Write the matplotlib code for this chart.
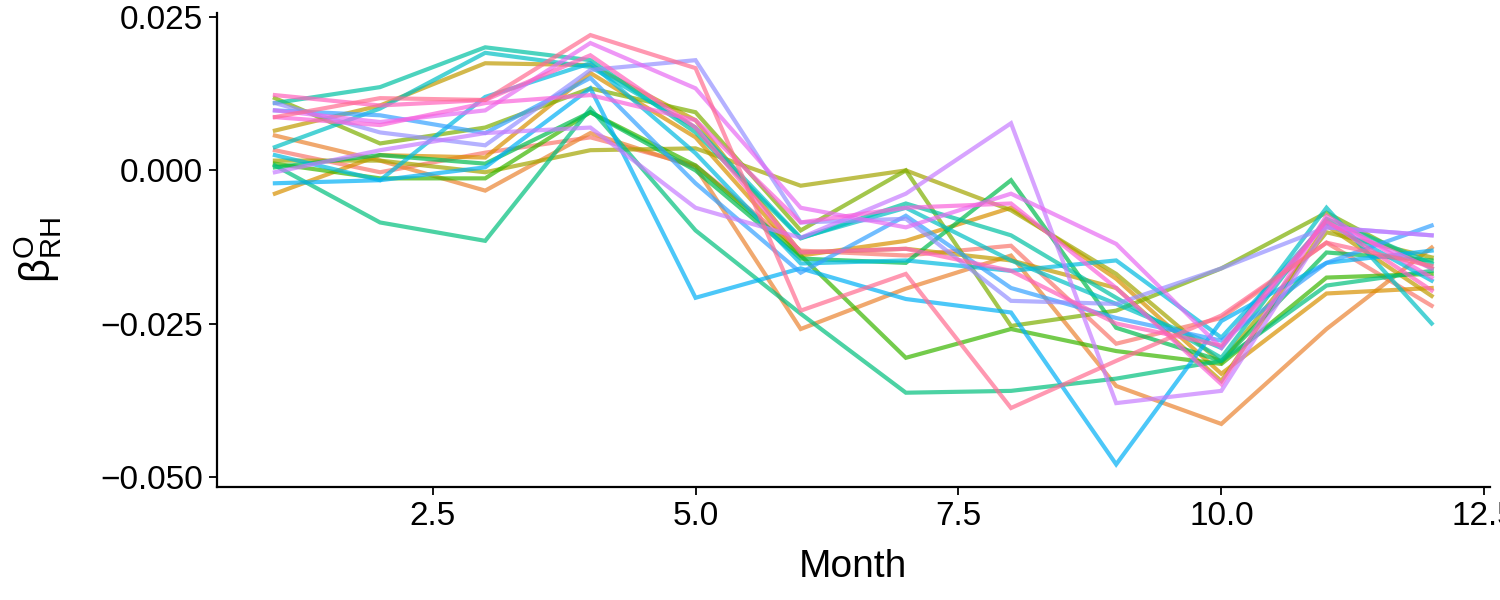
import numpy as np
import matplotlib
matplotlib.use('Agg')
import matplotlib.pyplot as plt

### data ###

months = list(range(1, 13))

# one series per site, ggplot hue colours in order
s01 = [0.0033, -0.0003, 0.0029, 0.0054, 0.0008, -0.0131, -0.0139, -0.0123, -0.0283, -0.0241, -0.0118, -0.0221]
s02 = [0.0057, 0.0016, -0.0033, 0.0061, 0.0005, -0.0259, -0.0193, -0.0139, -0.0352, -0.0414, -0.0259, -0.0126]
s03 = [-0.0038, 0.0025, 0.0021, 0.0159, 0.0054, -0.0139, -0.0115, -0.0061, -0.0177, -0.0332, -0.0201, -0.0192]
s04 = [0.0065, 0.0106, 0.0175, 0.0172, 0.0082, -0.0134, -0.0128, -0.0147, -0.0192, -0.0344, -0.0090, -0.0205]
s05 = [0.0016, 0.0016, -0.0003, 0.0033, 0.0036, -0.0025, 0.0000, -0.0065, -0.0169, -0.0314, -0.0101, -0.0142]
s06 = [0.0118, 0.0044, 0.0070, 0.0134, 0.0095, -0.0098, 0.0000, -0.0254, -0.0229, -0.0160, -0.0069, -0.0160]
s07 = [0.0011, -0.0013, -0.0013, 0.0095, 0.0008, -0.0139, -0.0306, -0.0259, -0.0295, -0.0316, -0.0175, -0.0169]
s08 = [0.0005, 0.0025, 0.0011, 0.0095, 0.0000, -0.0144, -0.0151, -0.0016, -0.0257, -0.0311, -0.0134, -0.0147]
s09 = [0.0008, -0.0085, -0.0115, 0.0101, -0.0098, -0.0234, -0.0363, -0.0360, -0.0340, -0.0311, -0.0188, -0.0164]
s10 = [0.0110, 0.0136, 0.0201, 0.0180, 0.0062, -0.0111, -0.0054, -0.0106, -0.0208, -0.0306, -0.0079, -0.0152]
s11 = [0.0038, 0.0101, 0.0192, 0.0169, 0.0070, -0.0110, -0.0061, -0.0147, -0.0218, -0.0290, -0.0061, -0.0250]
s12 = [0.0025, -0.0016, 0.0120, 0.0175, 0.0028, -0.0152, -0.0147, -0.0164, -0.0147, -0.0273, -0.0085, -0.0180]
s13 = [-0.0021, -0.0016, 0.0005, 0.0134, -0.0208, -0.0160, -0.0210, -0.0232, -0.0480, -0.0246, -0.0151, -0.0131]
s14 = [0.0098, 0.0090, 0.0061, 0.0151, -0.0021, -0.0167, -0.0074, -0.0192, -0.0241, -0.0278, -0.0151, -0.0090]
s15 = [0.0110, 0.0062, 0.0041, 0.0164, 0.0180, -0.0085, -0.0079, -0.0213, -0.0218, -0.0160, -0.0093, -0.0106]
s16 = [-0.0003, 0.0033, 0.0061, 0.0070, -0.0061, -0.0110, -0.0038, 0.0077, -0.0380, -0.0360, -0.0093, -0.0106]
s17 = [0.0098, 0.0079, 0.0098, 0.0208, 0.0134, -0.0061, -0.0093, -0.0038, -0.0120, -0.0290, -0.0085, -0.0160]
s18 = [0.0087, 0.0074, 0.0110, 0.0123, 0.0082, -0.0085, -0.0061, -0.0054, -0.0192, -0.0349, -0.0074, -0.0175]
s19 = [0.0123, 0.0106, 0.0115, 0.0188, 0.0070, -0.0134, -0.0128, -0.0164, -0.0250, -0.0286, -0.0082, -0.0196]
s20 = [0.0087, 0.0118, 0.0115, 0.0221, 0.0167, -0.0229, -0.0169, -0.0388, -0.0311, -0.0237, -0.0118, -0.0156]

series = [s01, s02, s03, s04, s05, s06, s07, s08, s09, s10,
          s11, s12, s13, s14, s15, s16, s17, s18, s19, s20]

colors = ['#F8766D', '#EA8331', '#D89000', '#C09B00', '#A3A500', '#7CAE00', '#39B600',
          '#00BB4E', '#00BF7D', '#00C1A3', '#00BFC4', '#00BAE0', '#00B0F6', '#35A2FF',
          '#9590FF', '#C77CFF', '#E76BF3', '#FA62DB', '#FF62BC', '#FF6C91']

xticks = [2.5, 5.0, 7.5, 10.0, 12.5]
xticklabels = ['2.5', '5.0', '7.5', '10.0', '12.5']
yticks = [-0.050, -0.025, 0.000, 0.025]
yticklabels = ['\u22120.050', '\u22120.025', '0.000', '0.025']

###

plt.rcParams['font.family'] = ['Liberation Sans', 'DejaVu Sans']
plt.rcParams['mathtext.fontset'] = 'custom'
plt.rcParams['mathtext.rm'] = 'Liberation Sans'
plt.rcParams['mathtext.it'] = 'Liberation Sans'

fig = plt.figure(figsize=(15, 6), dpi=100)
ax = fig.add_axes([0.1447, 0.1883, 0.8483, 0.79])

for vals, col in zip(series, colors):
    ax.plot(months, vals, color=col, alpha=0.7, linewidth=3.0, solid_joinstyle='miter')

ax.set_xlim(0.45, 12.55)
ax.set_ylim(-0.0517, 0.0257)
ax.set_xticks(xticks)
ax.set_xticklabels(xticklabels)
ax.set_yticks(yticks)
ax.set_yticklabels(yticklabels)

ax.spines['top'].set_visible(False)
ax.spines['right'].set_visible(False)
for sp in ['left', 'bottom']:
    ax.spines[sp].set_linewidth(1.6)
ax.tick_params(axis='both', labelsize=24, length=6, width=1.3, color='black', labelcolor='black', pad=4)

ax.set_xlabel('Month', fontsize=28, labelpad=12)
ax.set_ylabel(r'$\mathrm{\beta}^{\mathrm{O}}_{\mathrm{RH}}$', fontsize=30, labelpad=26)

plt.savefig('out.png', dpi=100)
